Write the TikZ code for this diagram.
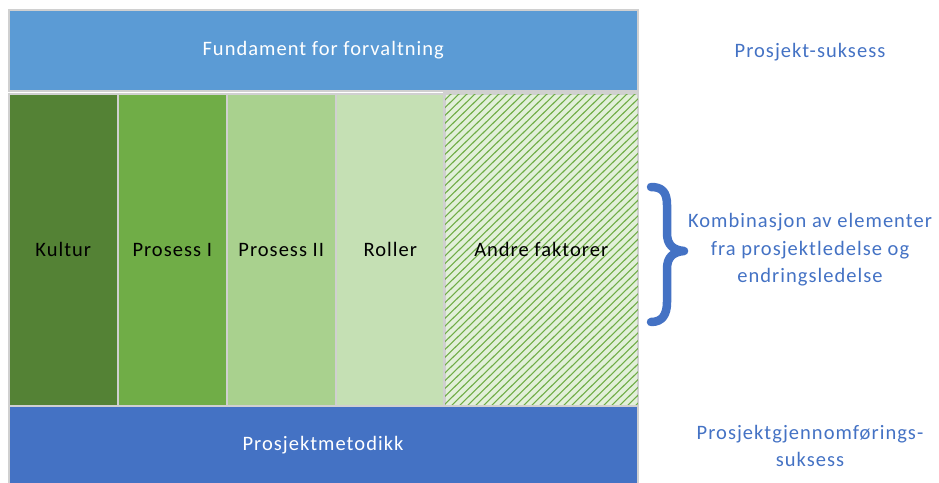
\documentclass[tikz,border=0pt]{standalone}
\usepackage{fontspec}
\setmainfont{Carlito}[LetterSpace=5]
\definecolor{topblue}{HTML}{5B9BD5}
\definecolor{botblue}{HTML}{4472C4}
\definecolor{gA}{HTML}{548235}
\definecolor{gB}{HTML}{70AD47}
\definecolor{gC}{HTML}{A9D18E}
\definecolor{gD}{HTML}{C5E0B4}
\definecolor{gE}{HTML}{E2F0D9}
\definecolor{edge}{HTML}{D0D0D0}
\begin{document}
\begin{tikzpicture}[x=1pt,y=-1pt,
  txt/.style={font=\fontsize{20.5}{24}\selectfont},
  box/.style={draw=edge,line width=1.5pt,inner sep=0pt,anchor=north west,txt},
  side/.style={text=botblue,align=center,font=\fontsize{20.5}{27.5}\selectfont}]
\useasboundingbox (0,0) rectangle (939,482);
\node[box,fill=topblue,text=white,minimum width=629pt,minimum height=81pt] (top) at (8,9) {Fundament for forvaltning};
\node[box,fill=gA,minimum width=109pt,minimum height=312pt] (kultur) at (8,93) {Kultur};
\node[box,fill=gB,minimum width=109pt,minimum height=312pt] (p1) at (117,93) {Prosess I};
\node[box,fill=gC,minimum width=109pt,minimum height=312pt] (p2) at (226,93) {Prosess II};
\node[box,fill=gD,minimum width=109pt,minimum height=312pt] (roller) at (335,93) {Roller};
\node[box,fill=gE,minimum width=193pt,minimum height=312pt] (andre) at (444,93) {};
\begin{scope}
  \clip (andre.north west) rectangle (andre.south east);
  \foreach \i in {0,8,...,520} {
    \draw[gB,line width=1.1pt] (444+\i-320,405) -- (444+\i,93);
  }
\end{scope}
\draw[edge,line width=1.5pt] (andre.north west) rectangle (andre.south east);
\node[txt] (andretxt) at (andre.center) {Andre faktorer};
\node[box,fill=botblue,minimum width=629pt,minimum height=80pt] (bot) at (8,405) {};
\node[txt,text=white] (bottxt) at (323,445) {Prosjektmetodikk};
\node[side] (ps) at (810,52) {Prosjekt-suksess};
\node[side] (komb) at (810,250) {Kombinasjon av elementer\\fra prosjektledelse og\\endringsledelse};
\node[side] (pgs) at (810,446) {Prosjektgjennomførings-\\suksess};
\coordinate (b1) at (651,187);
\coordinate (b2) at (651,322);
\draw[botblue,line width=8.5pt,line cap=round,line join=round]
  (b1) .. controls (662,187) and (667,192) .. (667,205)
  -- (667,233) .. controls (667,245) and (673,250) .. (684,251)
  .. controls (673,252) and (667,257) .. (667,269)
  -- (667,302) .. controls (667,315) and (662,322) .. (b2);
\end{tikzpicture}
\end{document}
